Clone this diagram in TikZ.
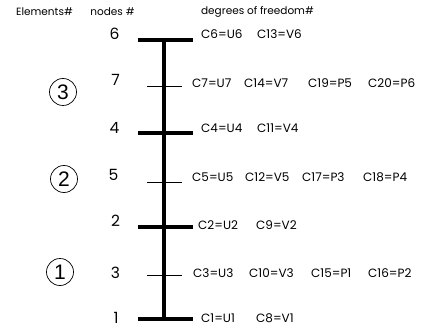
\documentclass[tikz,border=0pt]{standalone}
\usepackage{fontspec}
\setmainfont{Poppins}
\newfontfamily\circfont{Liberation Sans}
\begin{document}
\begin{tikzpicture}[x=1pt,y=-1pt,
  thickbar/.style={line width=4.5pt},
  thinbar/.style={line width=0.8pt},
  head/.style={font=\fontsize{10.5}{12}\selectfont, inner sep=0pt},
  num/.style={font=\fontsize{15.5}{17}\selectfont, inner sep=0pt},
  dof/.style={font=\fontsize{12}{13}\selectfont, inner sep=0pt, anchor=west},
  elem/.style={circle, draw, line width=0.7pt, minimum size=27pt, inner sep=0pt, font=\circfont\fontsize{21}{22}\selectfont}]
\useasboundingbox (0,0) rectangle (425,331);
% header
\node[head] (hE) at (44.5,12) {Elements\#};
\node[head] (hN) at (112.5,12) {nodes \#};
\node[head] (hD) at (257.5,12) {degrees of freedom\#};
% vertical bar
\coordinate (top) at (164,40);
\coordinate (bot) at (164,319);
\draw[line width=4.5pt] (top) -- (bot);
% thick node ticks
\foreach \n/\y in {6/40,4/133,2/227,1/319}{
  \coordinate (L\n) at (138,\y);
  \coordinate (R\n) at (193,\y);
  \draw[thickbar] (L\n) -- (R\n);
}
\foreach \n/\y in {7/86,5/182,3/275}{
  \coordinate (L\n) at (147,\y);
  \coordinate (R\n) at (182,\y);
  \draw[thinbar] (L\n) -- (R\n);
}
% node numbers
\node[num] (n6) at (114.5,34) {6};
\node[num] (n7) at (115.5,80) {7};
\node[num] (n4) at (114.5,128) {4};
\node[num] (n5) at (113.5,175) {5};
\node[num] (n2) at (115.5,221) {2};
\node[num] (n3) at (115.5,273) {3};
\node[num] (n1) at (116,318) {1};
% elements
\node[elem] (e3) at (63,92) {3};
\node[elem] (e2) at (64,179) {2};
\node[elem] (e1) at (60,272) {1};
% dofs
\node[dof] (d6a) at (201,34) {C6=U6};
\node[dof] (d6b) at (257,34) {C13=V6};
\node[dof] (d7a) at (192,83) {C7=U7};
\node[dof] (d7b) at (244,83) {C14=V7};
\node[dof] (d7c) at (308,83) {C19=P5};
\node[dof] (d7d) at (368,83) {C20=P6};
\node[dof] (d4a) at (201,128) {C4=U4};
\node[dof] (d4b) at (257,128) {C11=V4};
\node[dof] (d5a) at (192,177) {C5=U5};
\node[dof] (d5b) at (245,177) {C12=V5};
\node[dof] (d5c) at (302,177) {C17=P3};
\node[dof] (d5d) at (363,177) {C18=P4};
\node[dof] (d2a) at (198,225) {C2=U2};
\node[dof] (d2b) at (256,225) {C9=V2};
\node[dof] (d3a) at (193,273) {C3=U3};
\node[dof] (d3b) at (249,273) {C10=V3};
\node[dof] (d3c) at (311,273) {C15=P1};
\node[dof] (d3d) at (368,273) {C16=P2};
\node[dof] (d1a) at (201,318) {C1=U1};
\node[dof] (d1b) at (256,318) {C8=V1};
\end{tikzpicture}
\end{document}
